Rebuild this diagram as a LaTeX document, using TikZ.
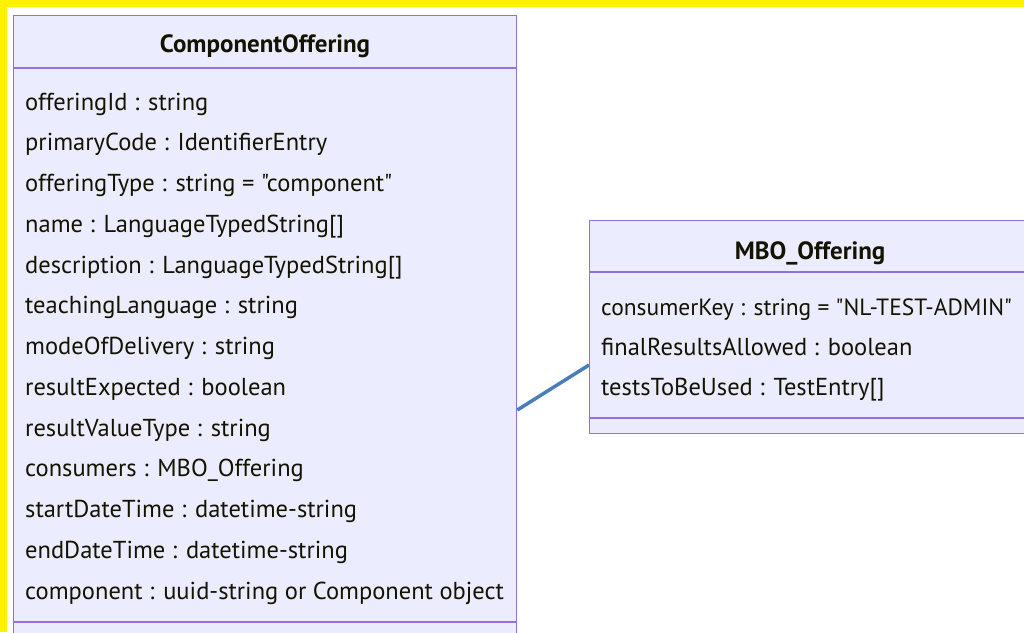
\documentclass[tikz,border=0pt]{standalone}
\usepackage{fontspec}
\setmainfont{PT Sans}[Ligatures=TeXOff]
\definecolor{boxfill}{HTML}{ECECFF}
\definecolor{boxline}{HTML}{9370DB}
\definecolor{txt}{HTML}{131300}
\definecolor{linkc}{HTML}{4A7EBB}
\newcommand{\dq}{\symbol{34}}
\begin{document}
\begin{tikzpicture}[x=1pt,y=-1pt,
  attr/.style={anchor=base west, inner sep=0pt, font=\fontsize{24.5}{28}\selectfont, text=txt},
  hdr/.style={anchor=base, inner sep=0pt, font=\fontsize{25}{29}\selectfont\bfseries, text=txt},
  cls/.style={fill=boxfill, draw=boxline, line width=1.3pt, anchor=north west, inner sep=0pt},
  sep/.style={draw=boxline, line width=1.3pt},
  assoc/.style={draw=linkc, line width=3.5pt}]
\useasboundingbox (0,0) rectangle (1024,632);
\clip (0,0) rectangle (1024,632);
\fill[white] (0,0) rectangle (1024,632);
\fill[yellow] (0,0) rectangle (1024,7);
\fill[yellow] (0,0) rectangle (7,632);
% ComponentOffering
\node[cls, minimum width=503pt, minimum height=630pt] (co) at (13,15) {};
\draw[sep] (13,68) -- (516,68) (13,622) -- (516,622);
\node[hdr] (coh) at (265,52) {ComponentOffering};
\node[attr] (a1) at (25,110) {offeringId : string};
\node[attr] (a2) at (25,150.75) {primaryCode : IdentifierEntry};
\node[attr] (a3) at (25,191.5) {offeringType : string = \dq component\dq};
\node[attr] (a4) at (25,232.25) {name : LanguageTypedString[]};
\node[attr] (a5) at (25,273) {description : LanguageTypedString[]};
\node[attr] (a6) at (25,313.75) {teachingLanguage : string};
\node[attr] (a7) at (25,354.5) {modeOfDelivery : string};
\node[attr] (a8) at (25,395.25) {resultExpected : boolean};
\node[attr] (a9) at (25,436) {resultValueType : string};
\node[attr] (a10) at (25,476.75) {consumers : MBO\_Offering};
\node[attr] (a11) at (25,517.5) {startDateTime : datetime-string};
\node[attr] (a12) at (25,558.25) {endDateTime : datetime-string};
\node[attr] (a13) at (25,599) {component : uuid-string or Component object};
% MBO_Offering
\node[cls, minimum width=442pt, minimum height=213pt] (mbo) at (589,220) {};
\draw[sep] (589,272) -- (1031,272) (589,418) -- (1031,418);
\node[hdr] (mboh) at (810,259) {MBO\_Offering};
\node[attr, font=\fontsize{23.5}{28}\selectfont] (b1) at (601,315) {consumerKey : string = \dq NL-TEST-ADMIN\dq};
\node[attr] (b2) at (601,355) {finalResultsAllowed : boolean};
\node[attr] (b3) at (601,395) {testsToBeUsed : TestEntry[]};
% association
\coordinate (y1) at (0,410);
\coordinate (y2) at (0,365);
\draw[assoc] (co.east |- y1) -- (mbo.west |- y2);
\end{tikzpicture}
\end{document}
